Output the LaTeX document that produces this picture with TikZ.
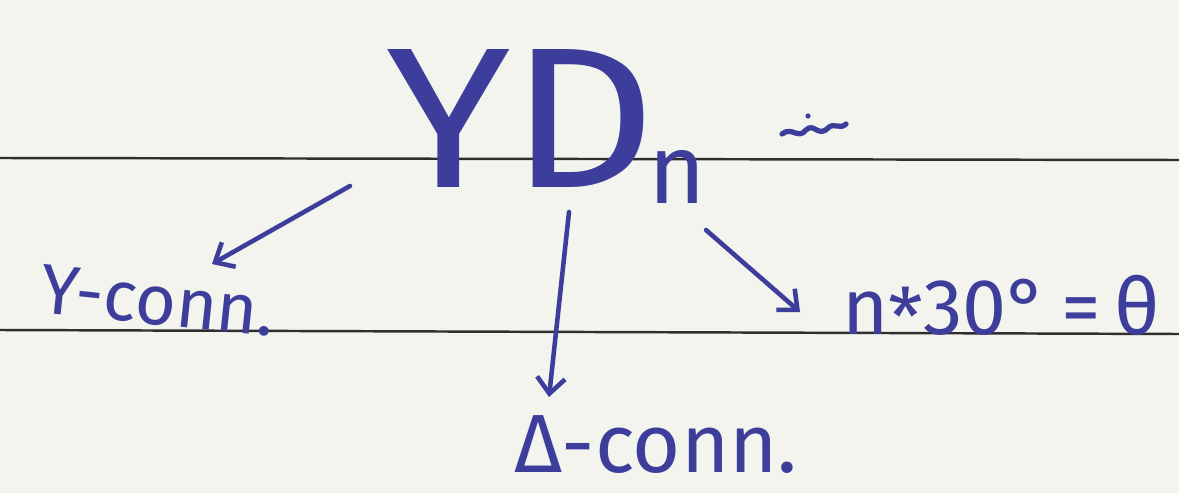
\documentclass[tikz,border=0pt]{standalone}
\usepackage{fontspec}
\setmainfont{Fira Sans}
\usetikzlibrary{arrows.meta}
\definecolor{paper}{HTML}{F3F4EE}
\definecolor{rule}{HTML}{2E2E2E}
\definecolor{ink}{HTML}{3D3E9C}
\tikzset{
  ink/.style={text=ink, inner sep=0pt},
  pen/.style={draw=ink, line width=2.6pt, line cap=round,
    -{Straight Barb[length=9pt, width=16pt, line width=2.6pt]}},
  ruling/.style={draw=rule, line width=1.4pt}
}
\newcommand{\fsz}[1]{\fontsize{#1}{#1}\selectfont}
\begin{document}
\begin{tikzpicture}[x=0.02cm, y=-0.02cm]
  % sheet and ruled lines
  \fill[paper] (0,0) rectangle (1179,493);
  \useasboundingbox (0,0) rectangle (1179,493);
  \draw[ruling] (0,158) -- (1179,160);
  \draw[ruling] (0,330) -- (1179,334);

  % heading: YD with subscript n
  \node[ink, anchor=base west, xscale=1.13, font=\fsz{114}] (YD) at (386,188) {YD};
  \node[ink, anchor=base west, font=\fsz{56}] (n) at (648,204) {n};
  % small scribble to the upper right
  \draw[draw=ink, line width=3pt, line cap=round, line join=round]
    (782,134) .. controls (792,126) and (798,140) .. (806,130)
    .. controls (814,122) and (818,138) .. (828,128)
    .. controls (834,122) and (840,130) .. (846,124);
  \fill[fill=ink] (808,116) circle (2.6);

  % three branches
  \node[ink, anchor=base west, rotate=-6, font=\fsz{40}] (yc) at (38,312) {Y-conn.};
  \node[ink, anchor=base west, font=\fsz{47}] (dc) at (514,472) {Δ-conn.};
  \node[ink, anchor=base west, font=\fsz{45}] (th) at (842,334)
    {n\raisebox{-0.28ex}{*}30°\,=\,θ};

  \coordinate (s1) at (350,186);
  \coordinate (e1) at (212,264);
  \coordinate (s2) at (569,212);
  \coordinate (e2) at (549,397);
  \coordinate (s3) at (706,230);
  \coordinate (e3) at (800,312);
  \draw[pen] (s1) -- (e1);
  \draw[pen] (s2) -- (e2);
  \draw[pen] (s3) -- (e3);
\end{tikzpicture}
\end{document}
